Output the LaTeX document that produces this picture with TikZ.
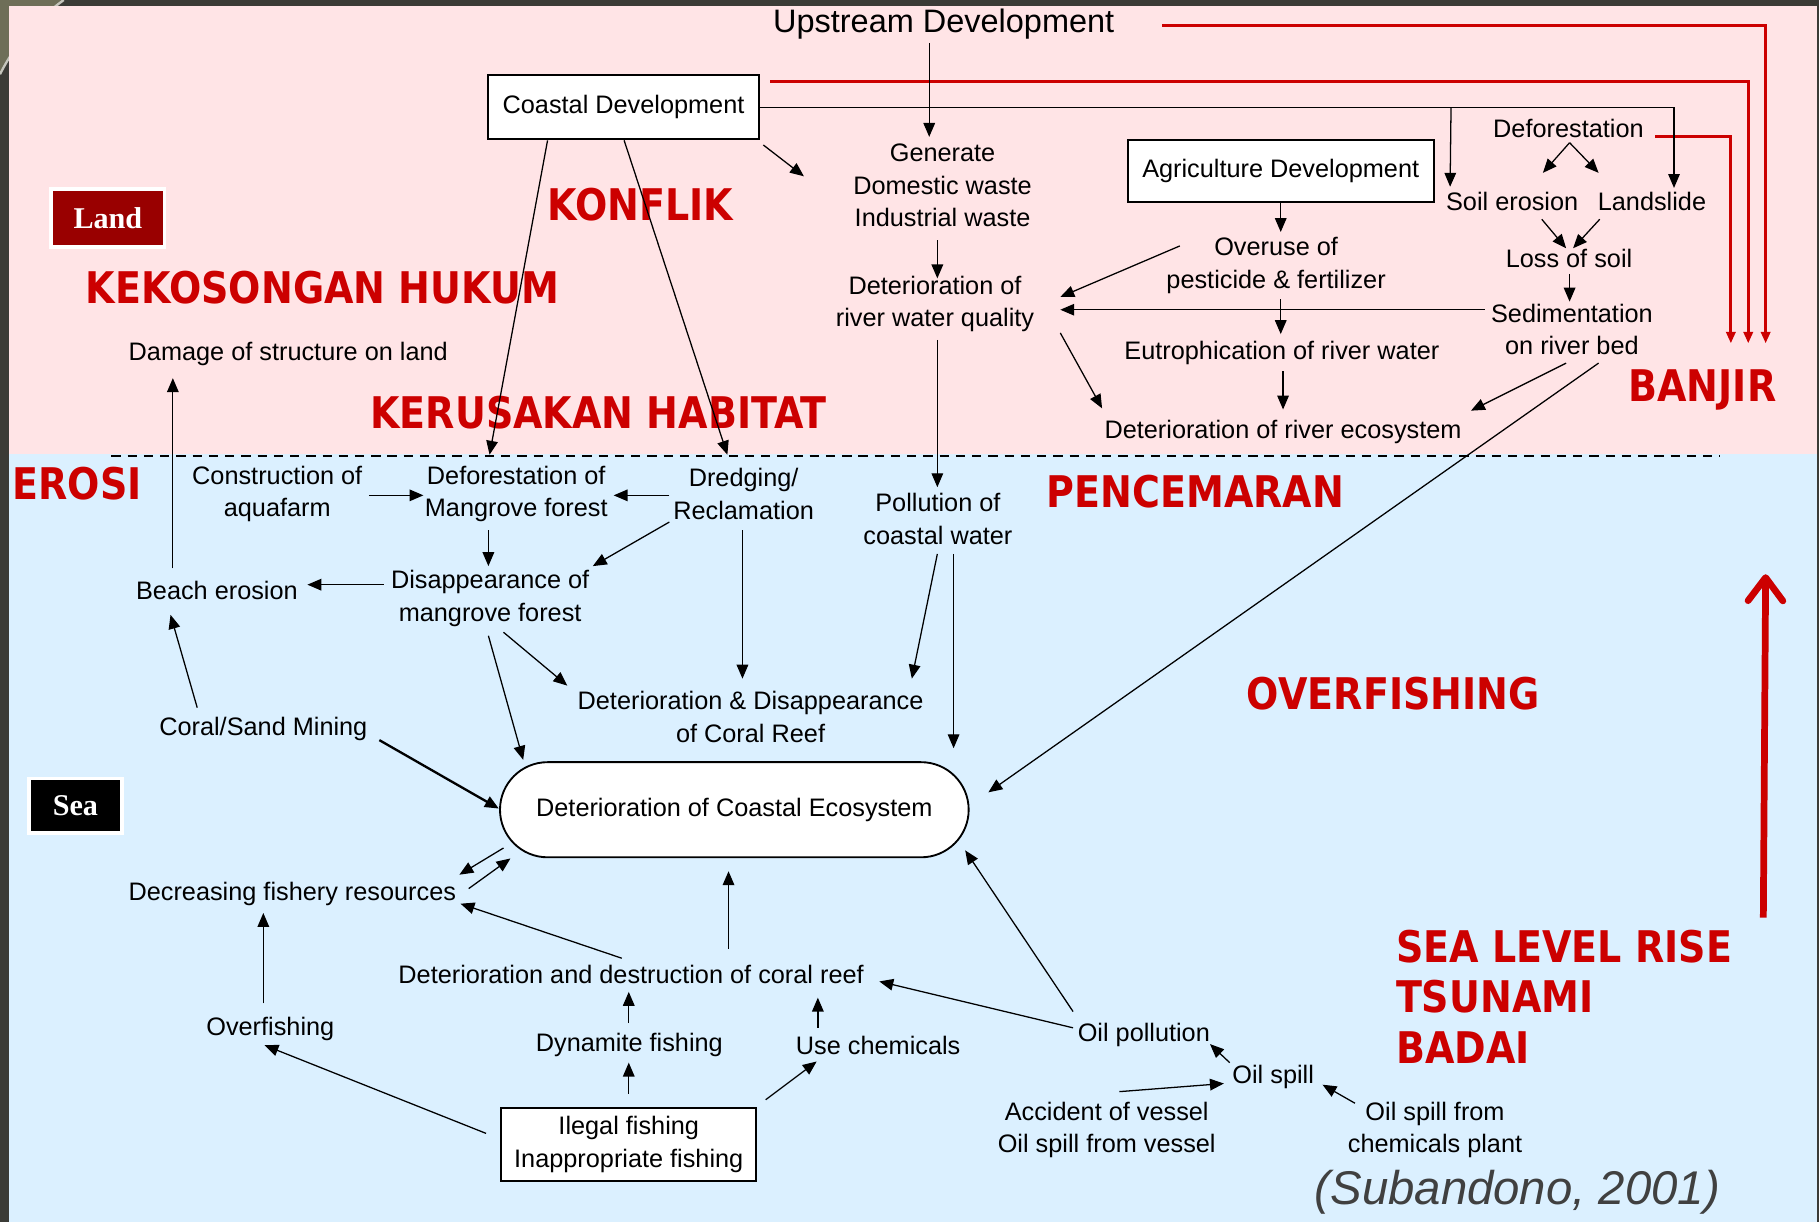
\documentclass[tikz,border=0pt]{standalone}
\usepackage{fontspec}
\setmainfont{Liberation Sans}
\newfontfamily\redfont{DejaVu Sans}[FakeStretch=0.872]
\newfontfamily\tnrfont{Liberation Serif}
\usetikzlibrary{arrows.meta,calc}
\definecolor{pinkbg}{HTML}{FFE4E6}
\definecolor{bluebg}{HTML}{DBF0FF}
\definecolor{rd}{HTML}{CC0000}
\definecolor{landred}{HTML}{990000}
\definecolor{framec}{HTML}{3B3B36}
\definecolor{olivec}{HTML}{6E6E58}
\definecolor{citegray}{HTML}{404040}
\newcommand{\nsz}{\fontsize{10.9}{14}\selectfont}
\tikzset{
  txt/.style={font=\nsz, align=center, inner sep=0pt},
  boxn/.style={draw, fill=white, line width=0.8pt, inner sep=0pt, font=\nsz, align=center},
  arr/.style={-{Triangle[length=6pt,width=5pt]}, line width=0.55pt},
  redarr/.style={draw=rd, line width=1.3pt, -{Triangle[length=5pt,width=4pt]}},
  redlbl/.style={text=rd, font=\redfont\bfseries\fontsize{18.8}{21.75}\selectfont, inner sep=0pt, align=left},
  tagbox/.style={draw=white, line width=1.5pt, inner sep=0pt, text=white,
     font=\tnrfont\bfseries\fontsize{13}{15}\selectfont}
}
\begin{document}
\begin{tikzpicture}[x=0.5pt,y=-0.5pt]
\useasboundingbox (0,0) rectangle (1568,1053);
% slide background
\fill[framec] (0,0) rectangle (1568,1053);
\fill[olivec] (0,0) -- (55,0) .. controls (30,18) and (12,40) .. (0,64) -- cycle;
\draw[white!60!olivec, line width=1pt] (55,0) .. controls (30,18) and (12,40) .. (0,64);
\fill[pinkbg] (8,5) rectangle (1566,391);
\fill[bluebg] (8,391) rectangle (1566,1053);
\draw[dashed, dash pattern=on 4pt off 3pt, line width=0.6pt] (96,393) -- (1483,393);

% ---------- land part ----------
\node[txt, font=\fontsize{14}{16}\selectfont] (ups) at (813.5,21) {Upstream Development};
\node[boxn, minimum width=116.5pt, minimum height=27.5pt] (cd) at (537.5,92.5) {Coastal Development};
\node[txt] (gen) at (812.5,160) {Generate\\Domestic waste\\Industrial waste};
\node[txt] (dwq) at (806,262) {Deterioration of\\river water quality};
\node[boxn, minimum width=132pt, minimum height=26.5pt] (ad) at (1104,147.5) {Agriculture Development};
\node[txt] (ov) at (1100,229) {Overuse of\\pesticide \& fertilizer};
\node[txt] (eut) at (1105,304) {Eutrophication of river water};
\node[txt] (dre) at (1106,372) {Deterioration of river ecosystem};
\node[txt] (def) at (1352,111) {Deforestation};
\node[txt] (se) at (1303.5,174) {Soil erosion};
\node[txt] (ls) at (1424,174) {Landslide};
\node[txt] (los) at (1352.5,223) {Loss of soil};
\node[txt] (sed) at (1355,284) {Sedimentation\\on river bed};
\node[txt] (dsl) at (248.5,305) {Damage of structure on land};

\node[tagbox, fill=landred, minimum width=49pt, minimum height=25pt] (land) at (93,188) {Land};

\node[redlbl] (konflik) at (552,176) {KONFLIK};
\node[redlbl] (hukum) at (278,248) {KEKOSONGAN HUKUM};
\node[redlbl] (habitat) at (516,356) {KERUSAKAN HABITAT};
\node[redlbl] (banjir) at (1467.5,336) {BANJIR};

% ---------- sea part ----------
\node[redlbl] (erosi) at (66.5,417) {EROSI};
\node[redlbl] (pencemaran) at (1030.5,424) {PENCEMARAN};
\node[redlbl] (overfish) at (1201,598) {OVERFISHING};
\node[redlbl, anchor=west] (slr) at (1203,859) {SEA LEVEL RISE\\TSUNAMI\\BADAI};

\node[txt] (caq) at (239,426) {Construction of\\aquafarm};
\node[txt] (dmf) at (445,426) {Deforestation of\\Mangrove forest};
\node[txt] (drd) at (641,426) {Dredging/\\Reclamation};
\node[txt] (pcw) at (808.5,447.5) {Pollution of\\coastal water};
\node[txt] (dis) at (422.5,516) {Disappearance of\\mangrove forest};
\node[txt] (be) at (187,509) {Beach erosion};
\node[txt] (csm) at (227,628) {Coral/Sand Mining};
\node[txt] (ddcr) at (647,618) {Deterioration \& Disappearance\\of Coral Reef};
\node[draw, fill=white, line width=0.8pt, rounded corners=20.5pt, minimum width=202pt,
      minimum height=41pt, font=\nsz, inner sep=0pt] (dce) at (633,698) {Deterioration of Coastal Ecosystem};
\node[tagbox, fill=black, minimum width=40pt, minimum height=23.5pt] (sea) at (65,694.5) {Sea};
\node[txt] (dfr) at (252,771) {Decreasing fishery resources};
\node[txt] (dcr) at (544,840) {Deterioration and destruction of coral reef};
\node[txt] (ovf) at (233,887) {Overfishing};
\node[txt] (dyn) at (542.5,901) {Dynamite fishing};
\node[txt] (uc) at (757,901) {Use chemicals};
\node[boxn, minimum width=110pt, minimum height=31.5pt] (ilf) at (542,986.5) {Ilegal fishing\\Inappropriate fishing};
\node[txt] (oilp) at (986,892) {Oil pollution};
\node[txt] (oils) at (1097.5,928) {Oil spill};
\node[txt] (acc) at (954,974) {Accident of vessel\\Oil spill from vessel};
\node[txt] (osc) at (1237,974) {Oil spill from\\chemicals plant};
\node[inner sep=0pt, text=citegray, font=\itshape\fontsize{20.4}{24}\selectfont] (cite) at (1308,1028) {(Subandono, 2001)};

% ---------- red flood lines ----------
\draw[redarr] ($(ups)+(188.5,1)$) -| ($(banjir)+(54.5,-40)$);
\draw[redarr] ($(cd)+(126.5,-22.5)$) -| ($(banjir)+(39.5,-40)$);
\draw[redarr] ($(def)+(75,7)$) -| ($(banjir)+(24.5,-40)$);

% ---------- land connectors ----------
\draw[arr] ($(ups)+(-12.5,16)$) -- ($(gen)+(-11.5,-42)$);
\draw[arr] (cd.east) -| ($(ls)+(19,-12)$);
\draw[arr] ($(cd.east)+(596,0)$) -- ($(se)+(-53.5,-13)$);
\draw[arr] ($(cd)+(120.5,32.5)$) -- ($(gen)+(-119.5,-8)$);
\draw[arr] ($(cd)+(-65.5,28.5)$) -- ($(dmf)+(-23,-34)$);
\draw[arr] ($(cd)+(0.5,28.5)$) -- ($(drd)+(-14,-34)$);
\draw[arr] ($(gen)+(-4.5,47)$) -- ($(dwq)+(2,-22)$);
\draw[arr] ($(dwq)+(2,31)$) -- ($(pcw)+(-0.5,-27.5)$);
\draw[arr] (ad.south) -- ($(ov)+(4,-29)$);
\draw[arr] ($(ov)+(-83,-17)$) -- ($(dwq)+(108,-6)$);
\draw[arr] ($(ov)+(4,29)$) -- ($(eut)+(-1,-16)$);
\draw[arr] ($(eut)+(1,16)$) -- ($(dre)+(0,-19)$);
\draw[arr] ($(dwq)+(108,25)$) -- ($(dre)+(-156,-20)$);
\draw[arr] ($(sed)+(-75,-17)$) -- ($(dwq)+(108,5)$);
\draw[arr] ($(sed)+(-5,29)$) -- ($(dre)+(162,-18)$);
\draw[arr] ($(sed)+(23,29)$) -- ($(dce)+(219,-15)$);
\draw[arr] ($(def)+(1,12)$) -- ($(se)+(26.5,-25)$);
\draw[arr] ($(def)+(1,12)$) -- ($(ls)+(-46,-25)$);
\draw[arr] ($(se)+(25.5,15)$) -- ($(los)+(-2.5,-9)$);
\draw[arr] ($(ls)+(-45,15)$) -- ($(los)+(3.5,-9)$);
\draw[arr] ($(los)+(0.5,13)$) -- ($(sed)+(-2,-24)$);
\draw[arr] ($(be)+(-38,-19)$) -- ($(dsl)+(-99.5,21)$);

% ---------- sea connectors ----------
\draw[arr] ($(caq)+(79,1)$) -- ($(dmf)+(-80,1)$);
\draw[arr] ($(drd)+(-64,1)$) -- ($(dmf)+(84,1)$);
\draw[arr] ($(dmf)+(-24,31)$) -- ($(dis)+(-1.5,-28)$);
\draw[arr] ($(drd)+(-64,24)$) -- ($(dis)+(88.5,-28)$);
\draw[arr] ($(dis)+(-91.5,-12)$) -- ($(be)+(78,-5)$);
\draw[arr] ($(csm)+(-57,-18)$) -- ($(be)+(-40,21)$);
\draw[arr, line width=1pt] ($(csm)+(100,10)$) -- ($(dce)+(-203,-1)$);
\draw[arr] ($(dis)+(-1.5,32)$) -- ($(dce)+(-182,-43)$);
\draw[arr] ($(dis)+(11.5,29)$) -- ($(ddcr)+(-158,-27)$);
\draw[arr] ($(drd)+(-1,31)$) -- ($(ddcr)+(-7,-33)$);
\draw[arr] ($(pcw)+(-0.5,30)$) -- ($(ddcr)+(139,-33)$);
\draw[arr] ($(pcw)+(13.5,30)$) -- ($(dce)+(189,-53)$);
\draw[arr] ($(dce)+(-199,33)$) -- ($(dfr)+(144,-17)$);
\draw[arr] ($(dfr)+(152,-5)$) -- ($(dce)+(-193,42)$);
\draw[arr] ($(dcr)+(-8,-14)$) -- ($(dfr)+(145,8)$);
\draw[arr] ($(dcr)+(84,-22)$) -- ($(dce)+(-5,53)$);
\draw[arr] ($(ovf)+(-6,-22)$) -- ($(dfr)+(-25,16)$);
\draw[arr] ($(dyn)+(-0.5,-19)$) -- ($(dcr)+(-2,15)$);
\draw[arr] ($(uc)+(-52,-15)$) -- ($(dcr)+(161,20)$);
\draw[arr] ($(ilf)+(0,-43.5)$) -- ($(dyn)+(-0.5,15)$);
\draw[arr] ($(ilf)+(-123,-9.5)$) -- ($(ovf)+(-5,14)$);
\draw[arr] ($(ilf)+(118,-38.5)$) -- ($(uc)+(-53,14)$);
\draw[arr] ($(oilp)+(-61,-6)$) -- ($(dcr)+(214,6)$);
\draw[arr] ($(oilp)+(-61,-20)$) -- ($(dce)+(199,35)$);
\draw[arr] ($(oils)+(-37.5,-12)$) -- ($(oilp)+(57,8)$);
\draw[arr] ($(acc)+(11,-33)$) -- ($(oils)+(-42.5,6)$);
\draw[arr] ($(osc)+(-69,-23)$) -- ($(oils)+(42.5,7)$);

% ---------- big red arrow ----------
\draw[draw=rd, line width=2.9pt, -{Straight Barb[length=10pt,width=15pt,round]}]
  ($(slr.west)+(317,-68)$) -- ($(slr.west)+(319,-364)$);
\end{tikzpicture}
\end{document}
